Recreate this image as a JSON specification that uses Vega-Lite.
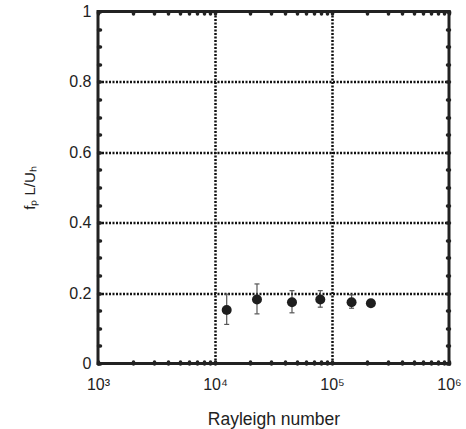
{
  "$schema": "https://vega.github.io/schema/vega-lite/v6.json",
  "autosize": "none",
  "padding": {"left": 98, "top": 11.5, "right": 17, "bottom": 65.5},
  "width": 351,
  "height": 352,
  "config": {
    "view": {"stroke": "#222", "strokeWidth": 3},
    "font": "Liberation Sans",
    "axis": {
      "domain": false,
      "tickColor": "#222",
      "tickWidth": 3.5,
      "tickSize": -2,
      "tickCap": "round",
      "labelFont": "Liberation Sans",
      "labelFontSize": 16,
      "labelColor": "#222",
      "titleFont": "Liberation Sans",
      "titleFontWeight": "normal",
      "titleColor": "#222",
      "labelOverlap": false,
      "labelFlush": false,
      "labelBound": false,
      "gridColor": "#111",
      "gridWidth": 2.5,
      "gridDash": [2, 1.5]
    }
  },
  "data": {
    "values": [
      {"ra": 12590, "f": 0.152, "lo": 0.111, "hi": 0.197},
      {"ra": 22850, "f": 0.182, "lo": 0.141, "hi": 0.226},
      {"ra": 45500, "f": 0.174, "lo": 0.144, "hi": 0.207},
      {"ra": 79400, "f": 0.182, "lo": 0.160, "hi": 0.207},
      {"ra": 147000, "f": 0.174, "lo": 0.157, "hi": 0.195},
      {"ra": 215000, "f": 0.171, "lo": 0.164, "hi": 0.179}
    ]
  },
  "resolve": {"axis": {"x": "independent", "y": "independent"}},
  "layer": [
    {
      "mark": {"type": "rule", "color": "#555", "strokeWidth": 1.2},
      "encoding": {
        "x": {
          "field": "ra", "type": "quantitative",
          "scale": {"type": "log", "domain": [1000, 1000000], "nice": false},
          "axis": {
            "orient": "bottom",
            "title": "Rayleigh number",
            "titleFontSize": 17.5,
            "titlePadding": 18,
            "labelPadding": 15,
            "values": [1000,2000,3000,4000,5000,6000,7000,8000,9000,10000,20000,30000,40000,50000,60000,70000,80000,90000,100000,200000,300000,400000,500000,600000,700000,800000,900000,1000000],
            "labelExpr": "datum.value==1000?'10³':datum.value==10000?'10⁴':datum.value==100000?'10⁵':datum.value==1000000?'10⁶':''",
            "grid": true,
            "gridOpacity": {"condition": {"test": "datum.value==10000||datum.value==100000", "value": 1}, "value": 0}
          }
        },
        "y": {
          "field": "lo", "type": "quantitative",
          "scale": {"domain": [0, 1], "nice": false},
          "axis": {
            "orient": "left",
            "title": "fₚ L/Uₕ",
            "titleFontSize": 15,
            "titlePadding": 31,
            "labelPadding": 9,
            "values": [0,0.05,0.1,0.15,0.2,0.25,0.3,0.35,0.4,0.45,0.5,0.55,0.6,0.65,0.7,0.75,0.8,0.85,0.9,0.95,1],
            "labelExpr": "datum.value==0?'0':datum.value==0.2?'0.2':datum.value==0.4?'0.4':datum.value==0.6?'0.6':datum.value==0.8?'0.8':datum.value==1?'1':''",
            "grid": true,
            "gridOpacity": {"condition": {"test": "datum.value==0.2||datum.value==0.4||datum.value==0.6||datum.value==0.8", "value": 1}, "value": 0}
          }
        },
        "y2": {"field": "hi"}
      }
    },
    {
      "mark": {"type": "point", "shape": "M-1,0H1", "filled": false, "color": "#555", "strokeWidth": 1.2, "size": 25, "opacity": 1},
      "encoding": {
        "x": {"field": "ra", "type": "quantitative", "axis": null},
        "y": {"field": "lo", "type": "quantitative", "axis": null}
      }
    },
    {
      "mark": {"type": "point", "shape": "M-1,0H1", "filled": false, "color": "#555", "strokeWidth": 1.2, "size": 25, "opacity": 1},
      "encoding": {
        "x": {"field": "ra", "type": "quantitative", "axis": null},
        "y": {"field": "hi", "type": "quantitative", "axis": null}
      }
    },
    {
      "mark": {"type": "point", "shape": "circle", "filled": true, "color": "#1e1e1e", "size": 100, "opacity": 1},
      "encoding": {
        "x": {
          "field": "ra", "type": "quantitative",
          "axis": {
            "orient": "top", "title": null, "labels": false, "grid": false,
            "values": [1000,2000,3000,4000,5000,6000,7000,8000,9000,10000,20000,30000,40000,50000,60000,70000,80000,90000,100000,200000,300000,400000,500000,600000,700000,800000,900000,1000000]
          }
        },
        "y": {
          "field": "f", "type": "quantitative",
          "axis": {
            "orient": "right", "title": null, "labels": false, "grid": false,
            "values": [0,0.05,0.1,0.15,0.2,0.25,0.3,0.35,0.4,0.45,0.5,0.55,0.6,0.65,0.7,0.75,0.8,0.85,0.9,0.95,1]
          }
        }
      }
    }
  ]
}
